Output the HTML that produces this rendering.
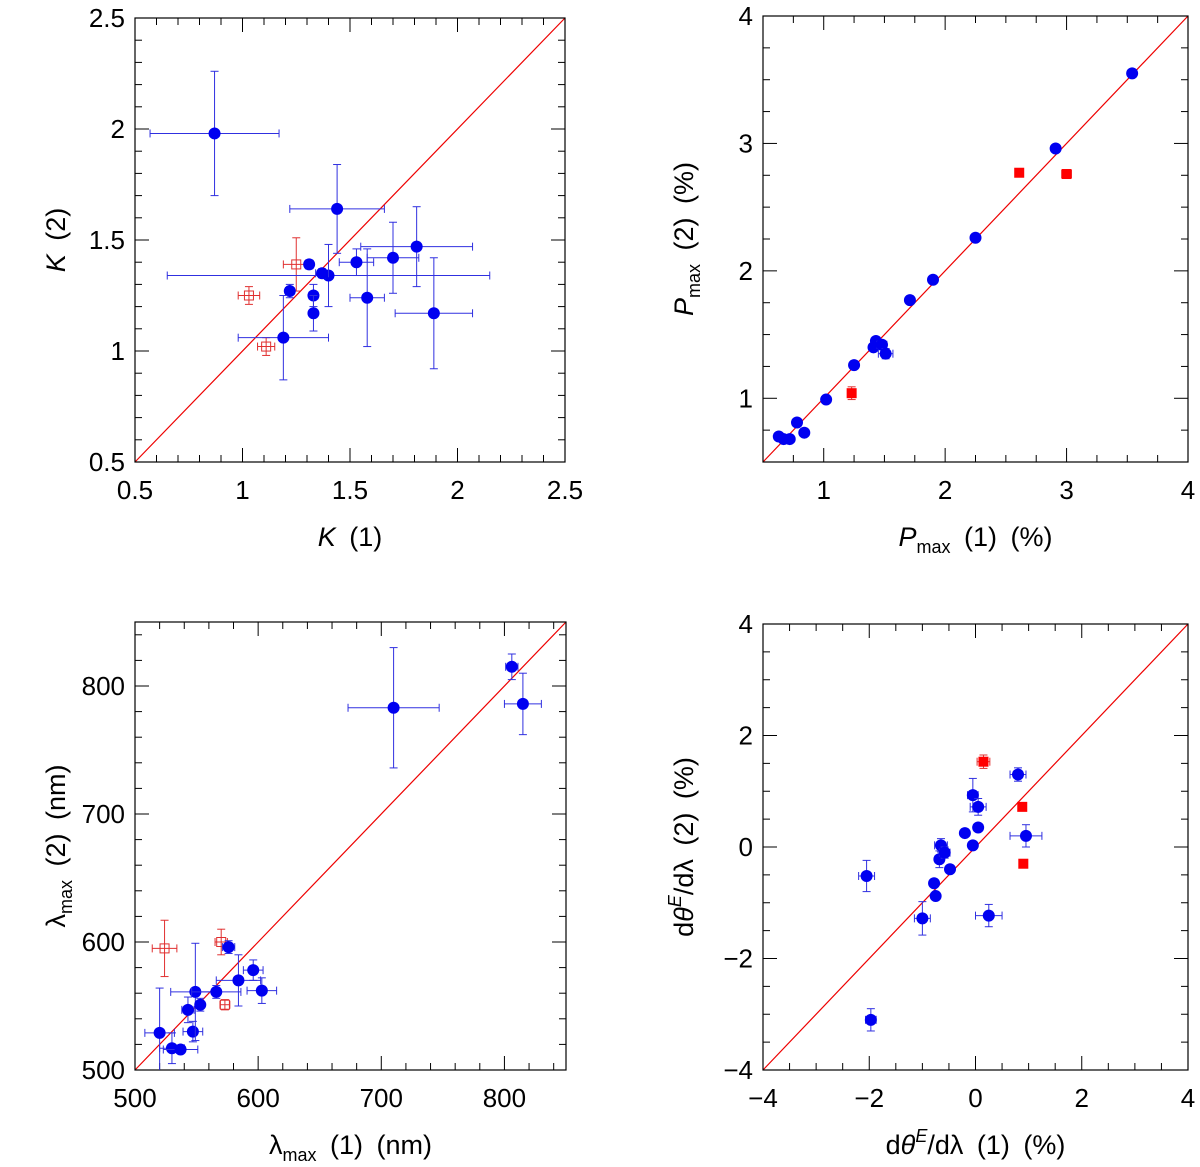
<!DOCTYPE html>
<html><head><meta charset="utf-8"><style>body{margin:0;background:#fff}svg{display:block}text{font-family:"Liberation Sans",sans-serif;fill:#000}</style></head>
<body>
<svg id="s" width="1200" height="1167" xmlns="http://www.w3.org/2000/svg"></svg>
<script>
// Panel 1: K
const k_bx=[0.87,1.44,1.81,1.70,1.53,1.31,1.40,1.37,1.22,1.33,1.58,1.33,1.19,1.89];
const k_by=[1.98,1.64,1.47,1.42,1.40,1.39,1.34,1.35,1.27,1.25,1.24,1.17,1.06,1.17];
const k_bex=[0.30,0.22,0.26,0.12,0.08,0.02,0.75,0.03,0.02,0.02,0.08,0.01,0.21,0.18];
const k_bey=[0.28,0.20,0.18,0.16,0.06,0.02,0.14,0.02,0.03,0.05,0.22,0.08,0.19,0.25];
const k_rx=[1.03,1.11,1.25];
const k_ry=[1.25,1.02,1.39];
const k_rex=[0.05,0.04,0.06];
const k_rey=[0.04,0.04,0.12];
// Panel 2: Pmax
const p_bx=[0.63,0.67,0.72,0.78,0.84,1.02,1.25,1.41,1.43,1.48,1.51,1.71,1.90,2.25,2.91,3.54];
const p_by=[0.70,0.68,0.68,0.81,0.73,0.99,1.26,1.40,1.45,1.42,1.35,1.77,1.93,2.26,2.96,3.55];
const p_bex=[0.02,0.02,0.02,0.02,0.02,0.02,0.02,0.02,0.02,0.04,0.06,0.02,0.02,0.02,0.02,0.02];
const p_bey=[0.02,0.02,0.02,0.02,0.03,0.02,0.02,0.03,0.03,0.03,0.04,0.02,0.02,0.02,0.02,0.02];
const p_rx=[1.23,2.61,3.00];
const p_ry=[1.04,2.77,2.76];
const p_rex=[0.03,0.03,0.04];
const p_rey=[0.05,0.03,0.03];
// Panel 3: lambda max
const l_bx=[520,530,537,543,547,549,553,566,576,584,596,603,710,806,815];
const l_by=[529,517,516,547,530,561,551,561,596,570,578,562,783,815,786];
const l_bex=[12,10,14,5,8,20,3,20,5,18,8,12,37,5,15];
const l_bey=[35,12,3,10,8,38,5,5,5,20,8,10,47,10,24];
const l_rx=[524,570,573];
const l_ry=[595,600,551];
const l_rex=[10,5,4];
const l_rey=[22,10,4];
// Panel 4: dtheta/dlambda
const d_bx=[-2.05,-1.97,-1.0,-0.78,-0.75,-0.68,-0.65,-0.58,-0.48,-0.2,-0.05,-0.05,0.05,0.05,0.25,0.8,0.95];
const d_by=[-0.52,-3.1,-1.28,-0.65,-0.88,-0.22,0.03,-0.1,-0.4,0.25,0.93,0.03,0.72,0.35,-1.23,1.3,0.2];
const d_bex=[0.15,0.1,0.15,0.05,0.05,0.08,0.12,0.1,0.05,0.05,0.1,0.05,0.15,0.05,0.25,0.15,0.3];
const d_bey=[0.28,0.2,0.3,0.05,0.05,0.15,0.12,0.1,0.05,0.05,0.3,0.05,0.15,0.05,0.2,0.12,0.2];
const d_rx=[0.15,0.88,0.9];
const d_ry=[1.53,0.72,-0.3];
const d_rex=[0.12,0.05,0.05];
const d_rey=[0.12,0.05,0.05];

const S=document.getElementById('s');const NS='http://www.w3.org/2000/svg';
function el(t,a,p){const e=document.createElementNS(NS,t);for(const k in a)e.setAttribute(k,a[k]);(p||S).appendChild(e);return e;}
function panel(name,box,xr,yr,xt,yt,xm,ym,xl,yl,bx,by,bex,bey,rx,ry,rex,rey,redOpen){
  const g=el('g',{});
  
  
  const [L,T,R,B]=box;
  const X=v=>L+(v-xr[0])/(xr[1]-xr[0])*(R-L);
  const Y=v=>B-(v-yr[0])/(yr[1]-yr[0])*(B-T);
  el('defs',{},g).innerHTML=`<clipPath id="c${name}"><rect x="${L}" y="${T}" width="${R-L}" height="${B-T}"/></clipPath>`;
  const lo=Math.max(xr[0],yr[0]),hi=Math.min(xr[1],yr[1]);
  const diag=el('line',{x1:X(lo),y1:Y(lo),x2:X(hi),y2:Y(hi),stroke:'#e00','stroke-width':1.2},g);
  
  
  const fr=el('rect',{x:L,y:T,width:R-L,height:B-T,fill:'none',stroke:'#000','stroke-width':1.2},g);
  
  
  for(let v=xr[0];v<=xr[1]+1e-9;v+=xm){const x=X(v);const maj=xt.some(t=>Math.abs(t-v)<1e-6);const l=maj?14:7;
    el('line',{x1:x,y1:B,x2:x,y2:B-l,stroke:'#000'},g);el('line',{x1:x,y1:T,x2:x,y2:T+l,stroke:'#000'},g);}
  for(let v=yr[0];v<=yr[1]+1e-9;v+=ym){const y=Y(v);const maj=yt.some(t=>Math.abs(t-v)<1e-6);const l=maj?14:7;
    el('line',{x1:L,y1:y,x2:L+l,y2:y,stroke:'#000'},g);el('line',{x1:R,y1:y,x2:R-l,y2:y,stroke:'#000'},g);}
  xt.forEach(t=>{const e=el('text',{x:X(t),y:B+37,'text-anchor':'middle','font-size':26},g);e.textContent=String(t).replace('-','\u2212');
    });
  yt.forEach(t=>{const e=el('text',{x:L-10,y:Y(t)+9,'text-anchor':'end','font-size':26},g);e.textContent=String(t).replace('-','\u2212');
    });
  const xlab=el('text',{x:(L+R)/2,y:B+84,'text-anchor':'middle','font-size':27,'xml:space':'preserve'},g);xlab.innerHTML=xl;
  
  const ylab=el('text',{x:0,y:0,'text-anchor':'middle','font-size':27,transform:`translate(${L-70},${(T+B)/2}) rotate(-90)`},g);ylab.innerHTML=yl;
  
  const pts=el('g',{'clip-path':`url(#c${name})`},g);
  function eb(x,y,ex,ey,col){
    el('line',{x1:X(x-ex),y1:Y(y),x2:X(x+ex),y2:Y(y),stroke:col,'stroke-width':1},pts);
    el('line',{x1:X(x),y1:Y(y-ey),x2:X(x),y2:Y(y+ey),stroke:col,'stroke-width':1},pts);
    [x-ex,x+ex].forEach(v=>el('line',{x1:X(v),y1:Y(y)-4,x2:X(v),y2:Y(y)+4,stroke:col},pts));
    [y-ey,y+ey].forEach(v=>el('line',{x1:X(x)-4,y1:Y(v),x2:X(x)+4,y2:Y(v),stroke:col},pts));
  }
  rx.forEach((x,i)=>{eb(x,ry[i],rex[i],rey[i],'#e03030');
    const r=el('rect',{x:X(x)-4.5,y:Y(ry[i])-4.5,width:9,height:9,fill:redOpen?'none':'#f00',stroke:redOpen?'#e03030':'#f00','stroke-width':1},pts);
    });
  bx.forEach((x,i)=>{eb(x,by[i],bex[i],bey[i],'#3030e0');
    const c=el('circle',{cx:X(x),cy:Y(by[i]),r:6,fill:'#0000f0'},pts);
    });
}
const sp='\u2002';
panel('panel-k',[135,18,565,462],[0.5,2.5],[0.5,2.5],[0.5,1,1.5,2,2.5],[0.5,1,1.5,2,2.5],0.1,0.1,
 '<tspan font-style="italic">K</tspan>'+sp+'(1)','<tspan font-style="italic">K</tspan>'+sp+'(2)',k_bx,k_by,k_bex,k_bey,k_rx,k_ry,k_rex,k_rey,true);
panel('panel-pmax',[763,16,1188,462],[0.5,4],[0.5,4],[1,2,3,4],[1,2,3,4],0.25,0.25,
 '<tspan font-style="italic">P</tspan><tspan font-size="18" dy="7">max</tspan><tspan dy="-7">'+sp+'(1)'+sp+'(%)</tspan>','<tspan font-style="italic">P</tspan><tspan font-size="18" dy="7">max</tspan><tspan dy="-7">'+sp+'(2)'+sp+'(%)</tspan>',p_bx,p_by,p_bex,p_bey,p_rx,p_ry,p_rex,p_rey,false);
panel('panel-lambda',[135,622,566,1070],[500,850],[500,850],[500,600,700,800],[500,600,700,800],20,20,
 'λ<tspan font-size="18" dy="7">max</tspan><tspan dy="-7">'+sp+'(1)'+sp+'(nm)</tspan>','λ<tspan font-size="18" dy="7">max</tspan><tspan dy="-7">'+sp+'(2)'+sp+'(nm)</tspan>',l_bx,l_by,l_bex,l_bey,l_rx,l_ry,l_rex,l_rey,true);
panel('panel-dtheta',[763,624,1188,1070],[-4,4],[-4,4],[-4,-2,0,2,4],[-4,-2,0,2,4],0.5,0.5,
 'd<tspan font-style="italic">θ</tspan><tspan font-size="18" dy="-12" font-style="italic">E</tspan><tspan dy="12">/dλ'+sp+'(1)'+sp+'(%)</tspan>','d<tspan font-style="italic">θ</tspan><tspan font-size="18" dy="-12" font-style="italic">E</tspan><tspan dy="12">/dλ'+sp+'(2)'+sp+'(%)</tspan>',d_bx,d_by,d_bex,d_bey,d_rx,d_ry,d_rex,d_rey,false);
</script>
</body></html>
